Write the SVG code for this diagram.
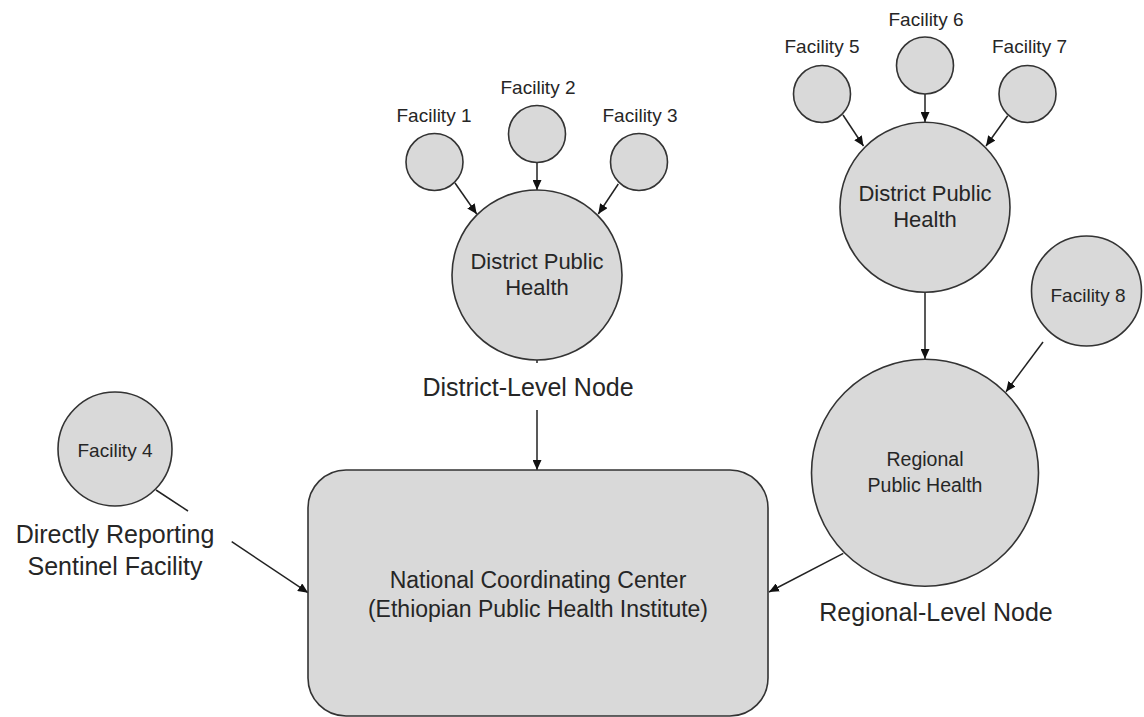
<svg xmlns="http://www.w3.org/2000/svg" width="1144" height="717" viewBox="0 0 1144 717">
<style>
.n{fill:#d9d9d9;stroke:#333;stroke-width:1.6}
.t{font-family:"Liberation Sans",Arial,sans-serif;fill:#262626;text-anchor:middle}
.c line{stroke:#222;stroke-width:1.5}
.a{marker-end:url(#ah)}
</style>
<defs>
<marker id="ah" markerUnits="userSpaceOnUse" markerWidth="11" markerHeight="9" refX="10" refY="4.5" orient="auto" viewBox="0 0 11 9">
<path d="M0,0 L10,4.5 L0,9 z" fill="#111"/>
</marker>
</defs>
<rect width="1144" height="717" fill="#fff"/>
<g id="connectors" class="c">
<line class="a" x1="455" y1="183" x2="476.7" y2="214"/>
<line class="a" x1="537" y1="163" x2="537" y2="190"/>
<line class="a" x1="618.3" y1="184" x2="598.3" y2="214"/>
<line x1="537" y1="360" x2="537" y2="363"/>
<line class="a" x1="537" y1="410" x2="537" y2="470"/>
<line class="a" x1="843" y1="115" x2="863.5" y2="146"/>
<line class="a" x1="925" y1="94" x2="925" y2="122"/>
<line class="a" x1="1007.7" y1="115.7" x2="986" y2="146"/>
<line class="a" x1="925" y1="292" x2="925" y2="359"/>
<line class="a" x1="1043" y1="342" x2="1006" y2="391.7"/>
<line class="a" x1="843.3" y1="553.3" x2="769" y2="592"/>
<line x1="156" y1="490" x2="188" y2="511"/>
<line class="a" x1="231.7" y1="541.7" x2="308" y2="592.7"/>
</g>
<g id="facility1"><circle class="n" cx="434.5" cy="162" r="28.5"/><text class="t" x="434" y="122" font-size="19">Facility 1</text></g>
<g id="facility2"><circle class="n" cx="537" cy="134" r="28.5"/><text class="t" x="538" y="94" font-size="19">Facility 2</text></g>
<g id="facility3"><circle class="n" cx="639" cy="162" r="28.5"/><text class="t" x="640" y="122" font-size="19">Facility 3</text></g>
<g id="district1"><circle class="n" cx="537" cy="275" r="85"/><text class="t" x="537" y="269" font-size="22">District Public</text><text class="t" x="537" y="295" font-size="22">Health</text><text class="t" x="528" y="396" font-size="25">District-Level Node</text></g>
<g id="facility5"><circle class="n" cx="822" cy="94" r="28.5"/><text class="t" x="822" y="53" font-size="19">Facility 5</text></g>
<g id="facility6"><circle class="n" cx="925" cy="65.5" r="28.5"/><text class="t" x="926" y="25.5" font-size="19">Facility 6</text></g>
<g id="facility7"><circle class="n" cx="1027.5" cy="94" r="28.5"/><text class="t" x="1029.5" y="53" font-size="19">Facility 7</text></g>
<g id="district2"><circle class="n" cx="925" cy="207.3" r="85"/><text class="t" x="925" y="201" font-size="22">District Public</text><text class="t" x="925" y="227" font-size="22">Health</text></g>
<g id="facility8"><circle class="n" cx="1086.5" cy="291" r="55"/><text class="t" x="1088" y="302" font-size="19">Facility 8</text></g>
<g id="regional"><circle class="n" cx="925" cy="472.7" r="113.5"/><text class="t" x="925" y="466" font-size="19.5">Regional</text><text class="t" x="925" y="491.5" font-size="19.5">Public Health</text><text class="t" x="936" y="621" font-size="25">Regional-Level Node</text></g>
<g id="facility4"><circle class="n" cx="115" cy="449" r="57"/><text class="t" x="115" y="456.5" font-size="19">Facility 4</text><text class="t" x="115" y="543" font-size="25">Directly Reporting</text><text class="t" x="115" y="575" font-size="25">Sentinel Facility</text></g>
<g id="national"><rect class="n" x="308" y="470" width="460" height="246" rx="38" ry="38"/><text class="t" x="538" y="588" font-size="23">National Coordinating Center</text><text class="t" x="538" y="617" font-size="23">(Ethiopian Public Health Institute)</text></g>
</svg>
